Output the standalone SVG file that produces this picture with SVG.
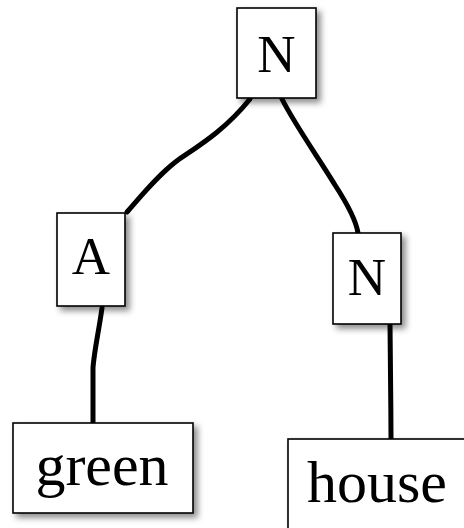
<svg xmlns="http://www.w3.org/2000/svg" width="464" height="528" viewBox="0 0 464 528">
  <defs>
    <filter id="shadow" x="-20%" y="-20%" width="150%" height="150%">
      <feDropShadow dx="4" dy="4" stdDeviation="3" flood-color="#000" flood-opacity="0.45"/>
    </filter>
  </defs>
  <style>
    .box { fill: #fff; stroke: #000; stroke-width: 1.6; filter: url(#shadow); }
    .label { font-family: "Liberation Serif", "DejaVu Serif", serif; fill: #000; text-anchor: middle; }
    .cat { font-size: 53px; }
    .word { font-size: 60px; }
    .edge { fill: none; stroke: #000; stroke-width: 5; stroke-linecap: round; }
  </style>
  <rect width="464" height="528" fill="#fff"/>

  <g id="edges">
    <path class="edge" d="M250,99 C 225,130 200,145 178,160 C 158,175 142,195 127,212"/>
    <path class="edge" d="M282,99 C 295,125 320,160 335,185 C 348,205 356,220 358,233"/>
    <path class="edge" d="M102,308 C 99,330 94,352 93,368 L 93,423"/>
    <path class="edge" d="M390,323 C 390,360 391,400 391,439"/>
  </g>

  <g id="node-n-root">
    <rect class="box" x="237" y="8" width="79" height="90"/>
    <text class="label cat" x="276.5" y="72">N</text>
  </g>

  <g id="node-a">
    <rect class="box" x="57" y="213" width="68" height="93"/>
    <text class="label cat" x="91" y="274">A</text>
  </g>

  <g id="node-n-right">
    <rect class="box" x="333" y="233" width="68" height="91"/>
    <text class="label cat" x="367" y="295">N</text>
  </g>

  <g id="node-green">
    <rect class="box" x="13" y="423" width="180" height="90"/>
    <text class="label word" x="102" y="485">green</text>
  </g>

  <g id="node-house">
    <rect class="box" x="288" y="439" width="190" height="100"/>
    <text class="label word" x="377" y="502">house</text>
  </g>
</svg>
